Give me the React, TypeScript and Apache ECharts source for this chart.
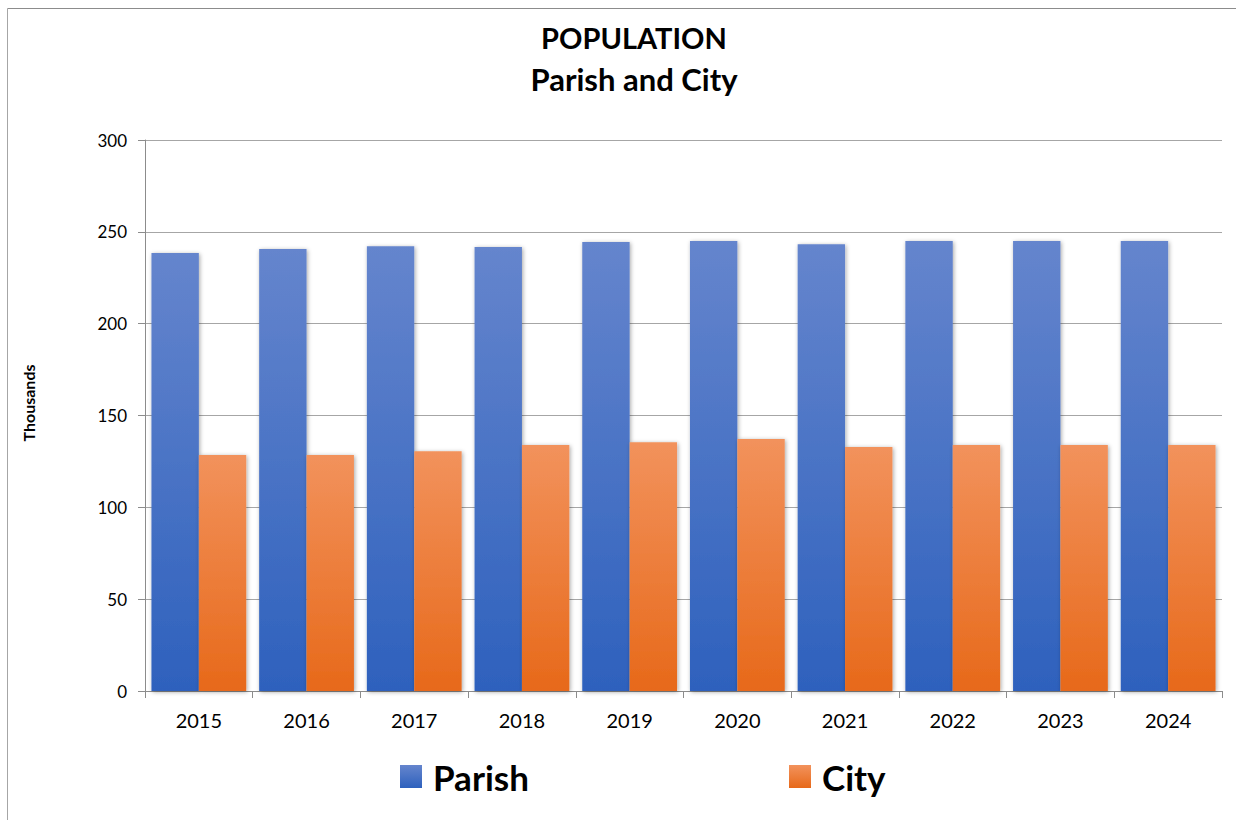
import React, { useEffect, useRef } from "react";
import * as echarts from "echarts";

const categories = ["2015", "2016", "2017", "2018", "2019", "2020", "2021", "2022", "2023", "2024"];
const parishValues = [238.5, 240.6, 242.2, 241.7, 244.4, 245.0, 243.3, 245.0, 245.0, 245.0];
const cityValues = [128.5, 128.5, 130.6, 133.9, 135.5, 137.2, 132.8, 133.9, 133.9, 133.9];
const seriesNames = ["Parish", "City"];
const titleLines = ["POPULATION", "Parish and City"];
const yAxisName = "Thousands";

const FONT = "Lato, 'Open Sans', sans-serif";

const grad = (top: string, bottom: string) =>
  new echarts.graphic.LinearGradient(0, 0, 0, 1, [
    { offset: 0, color: top },
    { offset: 1, color: bottom },
  ]);

export default function App() {
  const ref = useRef<HTMLDivElement>(null);
  useEffect(() => {
    if (!ref.current) return;
    const chart = echarts.init(ref.current, null, { renderer: "svg" });
    const parishColor = grad("#6585cd", "#2e61bd");
    const cityColor = grad("#f2925c", "#e7691a");
    const legendText = { fontSize: 35, fontWeight: "bold", fontFamily: FONT, color: "#000", padding: [0, 0, 0, 6] };
    chart.setOption({
      animation: false,
      backgroundColor: "#ffffff",
      graphic: [
        {
          type: "line",
          shape: { x1: 7.5, y1: 8.5, x2: 1236, y2: 8.5 },
          style: { stroke: "#8c8c8c", lineWidth: 1 },
          silent: true,
        },
        {
          type: "line",
          shape: { x1: 7.5, y1: 8.5, x2: 7.5, y2: 820 },
          style: { stroke: "#a6a6a6", lineWidth: 1 },
          silent: true,
        },
        {
          type: "text",
          x: 634,
          y: 37,
          style: {
            text: titleLines[0],
            fontSize: 29,
            fontWeight: "bold",
            fontFamily: FONT,
            fill: "#000",
            textAlign: "center",
            textVerticalAlign: "middle",
          },
        },
        {
          type: "text",
          x: 634,
          y: 79,
          style: {
            text: titleLines[1],
            fontSize: 31,
            fontWeight: "bold",
            fontFamily: FONT,
            fill: "#000",
            textAlign: "center",
            textVerticalAlign: "middle",
          },
        },
        {
          type: "text",
          x: 28,
          y: 403,
          rotation: Math.PI / 2,
          style: {
            text: yAxisName,
            fontSize: 16,
            fontWeight: "bold",
            fontFamily: FONT,
            fill: "#000",
            textAlign: "center",
            textVerticalAlign: "middle",
          },
        },
      ],
      grid: { left: 145, right: 14, top: 140, bottom: 129, containLabel: false },
      legend: [
        {
          data: [seriesNames[0]],
          left: 400,
          top: 759,
          padding: 0,
          itemWidth: 22,
          itemHeight: 23,
          icon: "rect",
          textStyle: legendText,
        },
        {
          data: [seriesNames[1]],
          left: 789,
          top: 759,
          padding: 0,
          itemWidth: 22,
          itemHeight: 23,
          icon: "rect",
          textStyle: legendText,
        },
      ],
      xAxis: {
        type: "category",
        data: categories,
        axisLine: { lineStyle: { color: "#8c8c8c", width: 1 } },
        axisTick: { show: true, length: 7, alignWithLabel: false, lineStyle: { color: "#8c8c8c" } },
        axisLabel: { fontSize: 20, color: "#000", fontFamily: FONT, margin: 19 },
      },
      yAxis: {
        type: "value",
        min: 0,
        max: 300,
        interval: 50,
        axisLine: { show: true, lineStyle: { color: "#8c8c8c", width: 1 } },
        axisTick: { show: true, length: 7, lineStyle: { color: "#8c8c8c" } },
        axisLabel: { fontSize: 17, color: "#000", fontFamily: FONT, margin: 18 },
        splitLine: { show: true, lineStyle: { color: "#a6a6a6", width: 1 } },
      },
      series: [
        {
          name: seriesNames[0],
          type: "bar",
          data: parishValues,
          barGap: "0%",
          barCategoryGap: "12%",
          itemStyle: {
            color: parishColor,
            shadowBlur: 4,
            shadowColor: "rgba(0,0,0,0.35)",
            shadowOffsetX: 1,
            shadowOffsetY: 1,
          },
        },
        {
          name: seriesNames[1],
          type: "bar",
          data: cityValues,
          barGap: "0%",
          barCategoryGap: "12%",
          itemStyle: {
            color: cityColor,
            shadowBlur: 4,
            shadowColor: "rgba(0,0,0,0.35)",
            shadowOffsetX: 1,
            shadowOffsetY: 1,
          },
        },
      ],
    });
    return () => chart.dispose();
  }, []);
  return (
    <div
      ref={ref}
      style={{ position: "fixed", left: 0, top: 0, width: 1236, height: 820 }}
    />
  );
}
